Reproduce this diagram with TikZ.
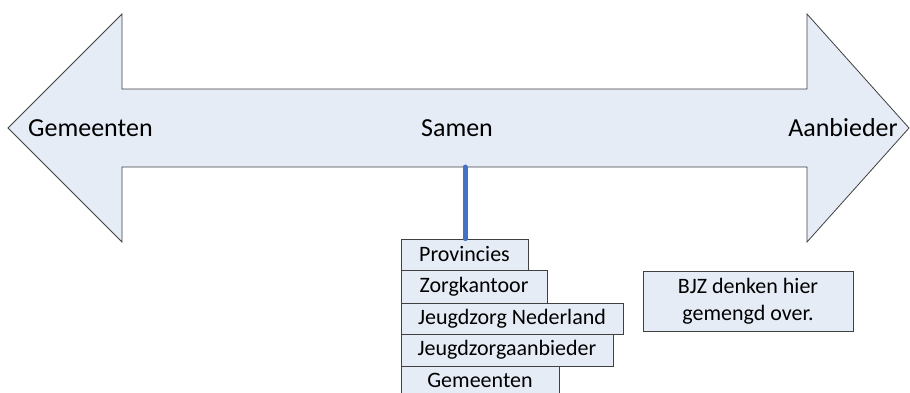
\documentclass[tikz,border=0pt]{standalone}
\usepackage{fontspec}
\setmainfont{Carlito}
\definecolor{fillblue}{HTML}{E6ECF6}
\definecolor{edge}{HTML}{404040}
\definecolor{stemblue}{HTML}{4472C4}
\begin{document}
\begin{tikzpicture}[x=1pt,y=-1pt,
  arrowshape/.style={draw=edge,fill=fillblue,line width=0.8pt},
  big/.style={font=\fontsize{26}{31}\selectfont,inner sep=0pt},
  box/.style={draw=edge,fill=fillblue,line width=0.8pt,inner sep=0pt,
    font=\fontsize{22}{27}\selectfont,align=center},
  stemline/.style={draw=stemblue,line width=5pt,line cap=round}]
\useasboundingbox (0,0) rectangle (910,392);
% double arrow
\draw[arrowshape] (8,128) -- (122,14) -- (122,89) -- (807,89) -- (807,14) -- (909,128)
  -- (807,242) -- (807,167) -- (122,167) -- (122,242) -- cycle;
\node[big,anchor=west] (lgem) at (28,128) {Gemeenten};
\node[big] (samen) at (457,128) {Samen};
\node[big] (aanb) at (843,128) {Aanbieder};
% stacked boxes
\node[box,minimum width=127pt,minimum height=31pt] (prov) at (464.5,254.5) {Provincies};
\node[box,minimum width=146pt,minimum height=33pt] (zorg) at (474,286.5) {Zorgkantoor};
\node[box,minimum width=222pt,minimum height=31pt] (jn) at (512,318.5) {Jeugdzorg Nederland};
\node[box,minimum width=212pt,minimum height=32pt] (ja) at (507,350) {Jeugdzorgaanbieder};
\node[box,minimum width=158pt,minimum height=28pt] (gem) at (480,380) {Gemeenten};
\node[box,minimum width=210pt,minimum height=60pt] (bjz) at (748,301) {BJZ denken hier\\gemengd over.};
% stem
\coordinate (top) at (465,167);
\draw[stemline] (top) -- (top |- prov.north);
\end{tikzpicture}
\end{document}
